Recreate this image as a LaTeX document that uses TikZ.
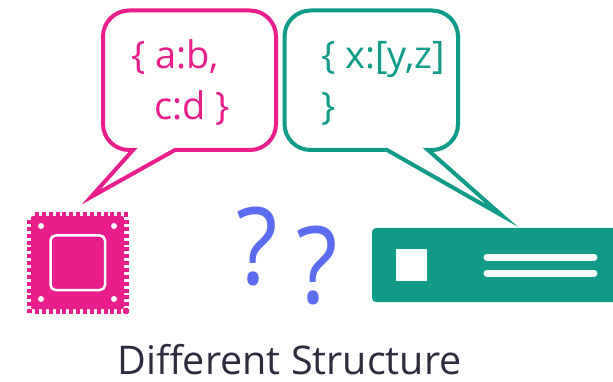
\documentclass[tikz,border=0pt]{standalone}
\usepackage{fontspec}
\setmainfont{Open Sans}
\definecolor{chippink}{HTML}{E91E8C}
\definecolor{boxgreen}{HTML}{109A88}
\definecolor{markblue}{HTML}{5B6CF0}
\definecolor{captiongray}{HTML}{2B2D3F}

\begin{document}
\begin{tikzpicture}[x=1pt,y=-1pt,
		bubble/.style={line width=4pt,miter limit=20,fill=white},
		code node/.style={anchor=base west,inner sep=0pt,font=\fontsize{38}{44}\selectfont},
		mark node/.style={anchor=base,inner sep=0pt,text=markblue,xscale=.9,font=\fontsize{107}{120}\selectfont},
		tooth/.style={fill=chippink,draw=none}]
	\useasboundingbox (0,0) rectangle (613,382);
	%
	% Speech bubbles.
	\draw[bubble,draw=chippink]
		(133,150) -- (91,197) -- (175,150) -- (250,150)
		[rounded corners=26pt] -- (276,150) -- (276,10.5) -- (103,10.5) -- (103,150)
		[sharp corners] -- (133,150) -- cycle;
	\draw[bubble,draw=boxgreen]
		(387,150) -- (502,215.5) -- (428,150) -- (432,150)
		[rounded corners=26pt] -- (458,150) -- (458,10.5) -- (284.5,10.5) -- (284.5,150)
		[sharp corners] -- (387,150) -- cycle;
	\node[code node,text=chippink] (ab) at (131,69) {\{ a:b,};
	\node[code node,text=chippink] (cd) at (154,120) {c:d \}};
	\node[code node,text=boxgreen] (xyz) at (321,69) {\{ x:[y,z]};
	\node[code node,text=boxgreen] (close) at (321,120) {\}};
	%
	% Chip with its pins.
	\fill[chippink,rounded corners=2pt] (31,216) rectangle (124,309);
	\foreach \i in {0,...,13} {
		\fill[tooth] ({35+\i*6.85},212) rectangle ++(4,5);
		\fill[tooth] ({35+\i*6.85},308) rectangle ++(4,6);
		\fill[tooth] (27,{220+\i*6.85}) rectangle ++(5,4);
		\fill[tooth] (123,{220+\i*6.85}) rectangle ++(6,4);
	}
	\draw[white,line width=2.5pt,rounded corners=5pt] (50.5,235.5) rectangle (105,290);
	\foreach \hx/\hy in {41/226,114/226,41/299,114/299}
		\fill[white] (\hx,\hy) circle (3pt);
	%
	% Green unit on the right.
	\fill[boxgreen,rounded corners=4pt] (372,228) rectangle (640,302);
	\fill[white] (396,249) rectangle (427,281);
	\draw[white,line width=7pt,line cap=round] (487,257) -- (594,257);
	\draw[white,line width=7pt,line cap=round] (487,273) -- (594,273);
	%
	% Question marks and caption.
	\node[mark node] (q1) at (257,284) {?};
	\node[mark node] (q2) at (317,303) {?};
	\node[anchor=base,inner sep=0pt,text=captiongray,font=\fontsize{39.5}{46}\selectfont] (caption) at (289.5,374) {Different Structure};
\end{tikzpicture}
\end{document}
